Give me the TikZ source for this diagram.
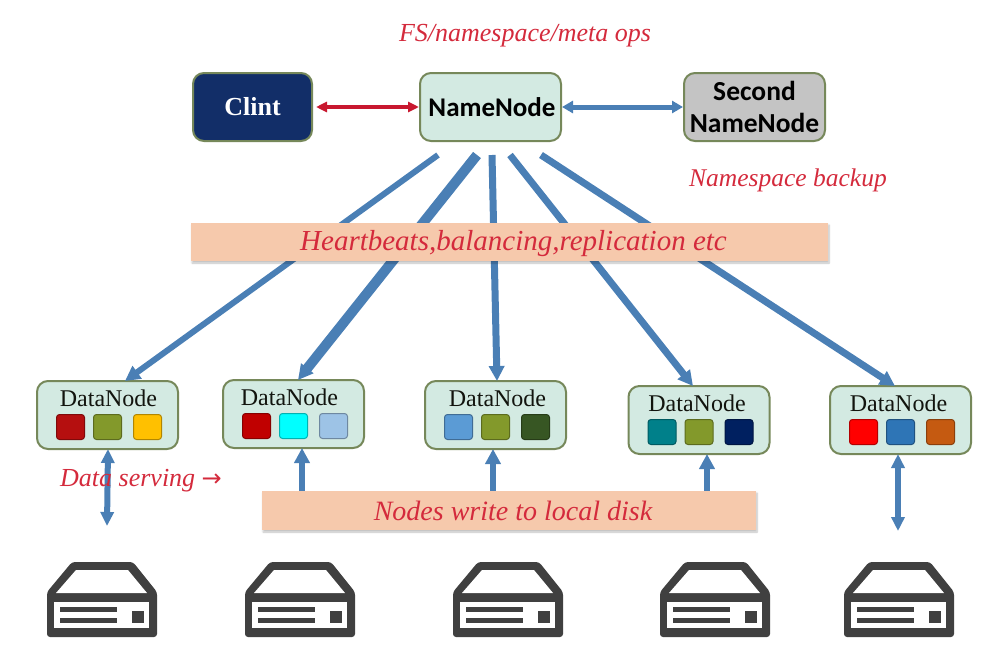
\documentclass[tikz,border=0pt]{standalone}
\usepackage{fontspec}
\setmainfont{Liberation Serif}
\newfontfamily\labelsans{Carlito}
\newfontfamily\symbolsans{DejaVu Sans}
\usetikzlibrary{arrows.meta,shadows.blur}
\definecolor{nodefill}{HTML}{D3EAE2}
\definecolor{nodeedge}{HTML}{76885A}
\definecolor{linkblue}{HTML}{4A7FB5}
\definecolor{linkred}{HTML}{C8182F}
\definecolor{inkred}{HTML}{D42A3C}
\definecolor{bandfill}{HTML}{F6C9AC}
\definecolor{navy}{HTML}{122E68}
\definecolor{greybox}{HTML}{C4C4C4}
\definecolor{disk}{HTML}{404040}
\newcommand{\fsz}[1]{\fontsize{#1}{#1}\selectfont}
\tikzset{
  x=1pt,y=-1pt,
  box/.style={draw=nodeedge,line width=2pt,rounded corners=11pt,fill=nodefill,inner sep=0pt},
  mainbox/.style={box,minimum width=141pt,minimum height=68pt,align=center,
    font=\labelsans\bfseries\fsz{27}},
  databox/.style={box,minimum width=141pt,minimum height=68pt},
  dntext/.style={font=\fsz{24},inner sep=0pt,text=black!85!nodeedge},
  chip/.style={draw=#1!70!black,line width=1pt,fill=#1,rounded corners=3pt,minimum width=28pt,minimum height=25pt,inner sep=0pt},
  band/.style={fill=bandfill,minimum height=38pt,inner sep=0pt,blur shadow={shadow xshift=1pt,shadow yshift=-2pt,shadow blur steps=6,shadow opacity=25}},
  note/.style={font=\itshape\fsz{24},text=inkred,inner sep=0pt},
  feed/.style={draw=linkblue,line width=#1,-{Triangle[length=15pt,width=15pt]}},
  feed/.default=6pt,
  both/.style={draw=linkblue,line width=6pt,{Triangle[length=14pt,width=13pt]}-{Triangle[length=14pt,width=13pt]}},
  pics/server/.style={code={
    \fill[disk,rounded corners=3pt] (25,0) -- (86,0) -- (110,30) -- (110,75) -- (0,75) -- (0,30) -- cycle;
    \fill[white] (29,8) -- (81,8) -- (100,31) -- (9,31) -- cycle;
    \fill[white] (7,40) rectangle (102,66);
    \fill[disk] (13,45) rectangle (70,50);
    \fill[disk] (13,56) rectangle (70,61);
    \fill[disk] (85,49) rectangle (97,61);
  }},
}
\begin{document}
\begin{tikzpicture}
\useasboundingbox (0,0) rectangle (983,645);

% Head services
\node[mainbox,fill=navy,minimum width=119pt,text=white,font=\bfseries\fsz{26}] (client) at (252.5,107) {Clint};
\node[mainbox] (name) at (490.5,107) {\hspace*{3pt}NameNode};
\node[mainbox,fill=greybox,font=\labelsans\bfseries\fsz{27.5}] (second) at (754.5,107) {Second\\[4pt]NameNode};

% Storage-side nodes: name, centre, label shift, three chip colours
\newcommand{\datanode}[7]{%
  \node[databox] (#1) at (#2,#3) {};
  \node[dntext] (#1t) at (#2+#4,#3-17) {DataNode};
  \node[chip=#5] (#1a) at (#2-37,#3+12) {};
  \node[chip=#6] (#1b) at (#2,#3+12) {};
  \node[chip=#7] (#1c) at (#2+40,#3+12) {};
}
\definecolor{c1}{HTML}{B50F0F}\definecolor{c2}{HTML}{83992B}\definecolor{c3}{HTML}{FFC000}
\definecolor{c4}{HTML}{C00000}\definecolor{c5}{HTML}{00FFFF}\definecolor{c6}{HTML}{9DC3E6}
\definecolor{c7}{HTML}{5B9BD5}\definecolor{c8}{HTML}{375623}
\definecolor{c9}{HTML}{00808A}\definecolor{c10}{HTML}{002060}
\definecolor{c11}{HTML}{FF0000}\definecolor{c12}{HTML}{2E75B6}\definecolor{c13}{HTML}{C55A11}
\datanode{dn1}{107.5}{415}{1}{c1}{c2}{c3}
\datanode{dn2}{293.5}{414}{-4}{c4}{c5}{c6}
\datanode{dn3}{495.5}{415}{2}{c7}{c2}{c8}
\datanode{dn4}{699}{420}{-2}{c9}{c2}{c10}
\datanode{dn5}{900.5}{420}{-2}{c11}{c12}{c13}

% Free ends of the control and disk links
\coordinate (n1) at (438,155); \coordinate (d1) at (125,381);
\coordinate (n2) at (477,155); \coordinate (d2) at (298,380);
\coordinate (n3) at (492,155); \coordinate (d3) at (497,381);
\coordinate (n4) at (510,155); \coordinate (d4) at (693,386);
\coordinate (n5) at (541,155); \coordinate (d5) at (895,386);
\coordinate (s1) at (107,526); \coordinate (u1) at (108,449);
\coordinate (s2) at (302,495); \coordinate (u2) at (302,448);
\coordinate (s3) at (493,495); \coordinate (u3) at (493,449);
\coordinate (s4) at (707,495); \coordinate (u4) at (707,454);
\coordinate (s5) at (898,531); \coordinate (u5) at (898,454);

% Control links
\draw[feed=6pt] (n1) -- (d1);
\draw[feed=10pt] (n2) -- (d2);
\draw[feed=7pt] (n3) -- (d3);
\draw[feed=7pt] (n4) -- (d4);
\draw[feed=7pt] (n5) -- (d5);

% Links between the head services
\draw[draw=linkred,line width=3.5pt,{Triangle[length=11pt,width=10pt]}-{Triangle[length=11pt,width=10pt]}] (client.east)++(3,0) -- (name.west);
\draw[draw=linkblue,line width=5pt,{Triangle[length=11pt,width=12pt]}-{Triangle[length=11pt,width=12pt]}] (name.east) -- (second.west);

% Disk links
\draw[both] (u1) -- (s1);
\draw[feed=6pt] (s2) -- (u2);
\draw[feed=6pt] (s3) -- (u3);
\draw[feed=6pt] (s4) -- (u4);
\draw[both] (u5) -- (s5);

% Bands laid over the links
\node[band,minimum width=637pt] (beat) at (509.5,242) {};
\node[note,font=\itshape\fsz{29}] (beatt) at (513.5,244) {Heartbeats,balancing,replication etc};
\node[band,minimum width=494pt,minimum height=39pt] (write) at (509,510.5) {};
\node[note,font=\itshape\fsz{28}] (writet) at (513,511) {Nodes write to local disk};

% Free-standing notes
\node[note,font=\itshape\fsz{26}] (ops) at (525,36) {FS/namespace/meta ops};
\node[note,font=\itshape\fsz{25.5}] (backup) at (788,180) {Namespace backup};
\node[note,anchor=west,font=\itshape\fsz{26}] (serving) at (60,481) {Data serving {\symbolsans\upshape\fsz{24}→}};

% Disk enclosures
\pic at (47,562) {server};
\pic at (245,562) {server};
\pic at (453,562) {server};
\pic at (660,562) {server};
\pic at (844,562) {server};
\end{tikzpicture}
\end{document}
